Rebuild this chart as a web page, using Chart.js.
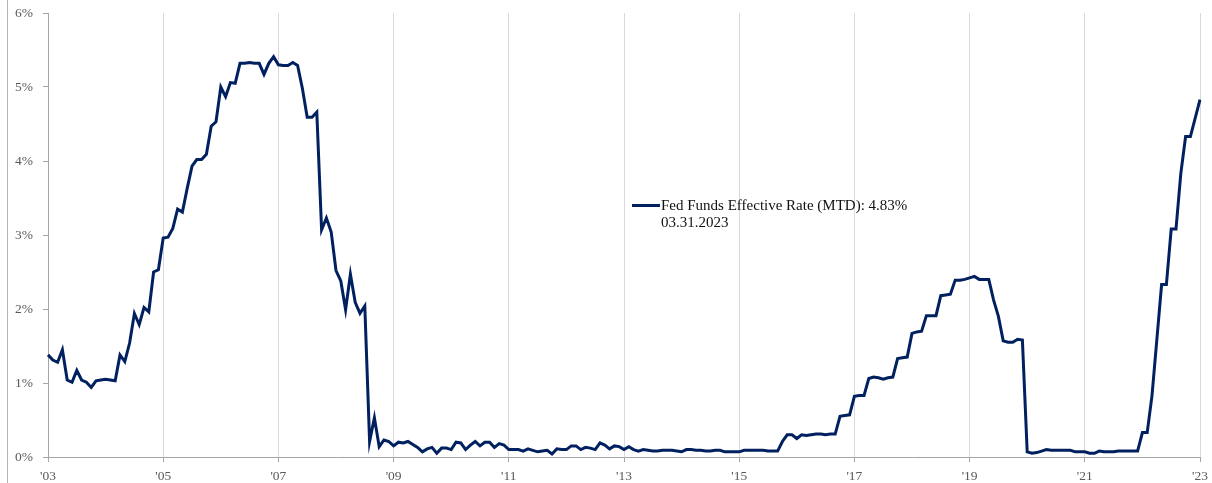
<!DOCTYPE html>
<html>
<head>
<meta charset="utf-8">
<title>Fed Funds Effective Rate</title>
<script src="https://cdn.jsdelivr.net/npm/chart.js@4.4.1/dist/chart.umd.min.js"></script>
<style>
  html, body { margin: 0; padding: 0; background: #ffffff; }
  #wrap { position: relative; width: 1212px; height: 483px; overflow: hidden; }
  #edge { position: absolute; left: 7px; top: 0; width: 1px; height: 483px; background: #b4b4b4; }
  #legend { position: absolute; left: 632px; top: 197px; font-family: "Liberation Serif", "Times New Roman", serif;
            font-size: 15px; line-height: 17px; color: #111111; }
  #legend .swatch { position: absolute; left: 0; top: 7px; width: 28px; height: 3px; background: #002060; }
  #legend .txt { margin-left: 29px; white-space: nowrap; }
</style>
</head>
<body>
<div id="wrap">
  <canvas id="chart" width="1212" height="483" style="width:1212px;height:483px"></canvas>
  <div id="edge"></div>
  <div id="legend">
    <span class="swatch"></span>
    <div class="txt" id="legendLine1"></div>
    <div class="txt" id="legendLine2"></div>
  </div>
</div>
<script>
// Series description
const seriesName = 'Fed Funds Effective Rate (MTD)';
const asOfDate = '03.31.2023';

// Monthly observations start in March 2003
const startYear = 2003;
const startMonth = 3;

// Labelled year ticks, one every 24 months
const yearTicks = ["'03", "'05", "'07", "'09", "'11", "'13", "'15", "'17", "'19", "'21", "'23"];
const monthsPerTick = 24;

// Effective fed funds rate, month-end, percent
const fedFundsRate = [
  1.38, 1.31, 1.28, 1.45, 1.04, 1.01, 1.17, 1.04, 1.01, 0.94,            // 2003 Mar-Dec
  1.03, 1.04, 1.05, 1.04, 1.03, 1.38, 1.29, 1.54, 1.94, 1.79, 2.02, 1.96, // 2004
  2.50, 2.53, 2.96, 2.97, 3.09, 3.35, 3.31, 3.63, 3.93, 4.02, 4.02, 4.09, // 2005
  4.47, 4.53, 5.00, 4.87, 5.06, 5.05, 5.32, 5.32, 5.33, 5.32, 5.32, 5.17, // 2006
  5.32, 5.41, 5.30, 5.29, 5.29, 5.33, 5.29, 4.98, 4.59, 4.59, 4.66, 3.07, // 2007
  3.23, 3.04, 2.52, 2.38, 1.99, 2.47, 2.09, 1.94, 2.04, 0.21, 0.53, 0.14, // 2008
  0.23, 0.21, 0.15, 0.20, 0.19, 0.21, 0.17, 0.13, 0.07, 0.11, 0.13, 0.05, // 2009
  0.12, 0.12, 0.10, 0.20, 0.19, 0.10, 0.16, 0.21, 0.15, 0.20, 0.20, 0.13, // 2010
  0.18, 0.16, 0.10, 0.10, 0.10, 0.08, 0.11, 0.09, 0.07, 0.08, 0.09, 0.04, // 2011
  0.11, 0.10, 0.10, 0.15, 0.15, 0.10, 0.13, 0.12, 0.10, 0.19, 0.16, 0.11, // 2012
  0.15, 0.14, 0.10, 0.14, 0.10, 0.08, 0.10, 0.09, 0.08, 0.08, 0.09, 0.09, // 2013
  0.09, 0.08, 0.07, 0.10, 0.10, 0.09, 0.09, 0.08, 0.08, 0.09, 0.09, 0.07, // 2014
  0.07, 0.07, 0.07, 0.09, 0.09, 0.09, 0.09, 0.09, 0.08, 0.08, 0.08, 0.21, // 2015
  0.30, 0.30, 0.25, 0.30, 0.29, 0.30, 0.31, 0.31, 0.30, 0.31, 0.31, 0.55, // 2016
  0.56, 0.57, 0.82, 0.83, 0.83, 1.06, 1.08, 1.07, 1.05, 1.07, 1.08, 1.33, // 2017
  1.34, 1.35, 1.67, 1.69, 1.70, 1.91, 1.91, 1.91, 2.18, 2.19, 2.20, 2.39, // 2018
  2.39, 2.40, 2.42, 2.44, 2.40, 2.40, 2.40, 2.12, 1.90, 1.57, 1.55, 1.55, // 2019
  1.59, 1.58, 0.07, 0.05, 0.06, 0.08, 0.10, 0.09, 0.09, 0.09, 0.09, 0.09, // 2020
  0.07, 0.07, 0.07, 0.05, 0.05, 0.08, 0.07, 0.07, 0.07, 0.08, 0.08, 0.08, // 2021
  0.08, 0.08, 0.33, 0.33, 0.83, 1.58, 2.33, 2.33, 3.08, 3.08, 3.83, 4.33, // 2022
  4.33, 4.58, 4.83                                                       // 2023 Jan-Mar
];

// Month categories (YYYY-MM)
const months = fedFundsRate.map((_, i) => {
  const m = startMonth - 1 + i;
  return (startYear + Math.floor(m / 12)) + '-' + String(m % 12 + 1).padStart(2, '0');
});

// Legend text carries the latest reading
const latest = fedFundsRate[fedFundsRate.length - 1];
document.getElementById('legendLine1').textContent = seriesName + ': ' + latest.toFixed(2) + '%';
document.getElementById('legendLine2').textContent = asOfDate;

const axisGrey = '#a6a6a6';
const gridGrey = '#d9d9d9';
const labelGrey = '#595959';
const tickFont = { family: '"Liberation Serif", "Times New Roman", serif', size: 13.5 };

new Chart(document.getElementById('chart'), {
  type: 'line',
  data: {
    labels: months,
    datasets: [{
      label: seriesName,
      data: fedFundsRate,
      borderColor: '#002060',
      borderWidth: 3,
      pointRadius: 0,
      pointHoverRadius: 0,
      tension: 0,
      fill: false
    }]
  },
  options: {
    responsive: false,
    animation: false,
    events: [],
    layout: { padding: { left: 8, right: 12, top: 13, bottom: 0 } },
    plugins: {
      legend: { display: false },
      tooltip: { enabled: false }
    },
    scales: {
      x: {
        type: 'category',
        offset: false,
        border: { display: true, color: axisGrey, width: 1 },
        grid: {
          display: true,
          drawOnChartArea: true,
          drawTicks: true,
          tickLength: 5,
          color: gridGrey,
          tickColor: axisGrey,
          lineWidth: 1
        },
        ticks: {
          autoSkip: false,
          maxRotation: 0,
          minRotation: 0,
          padding: 6,
          color: labelGrey,
          font: tickFont,
          callback: (value, index) => (index % monthsPerTick === 0 ? yearTicks[index / monthsPerTick] : null)
        },
        afterFit: (scale) => {
          scale.height = 26;
          scale.paddingLeft = 0;
          scale.paddingRight = 0;
        }
      },
      y: {
        min: 0,
        max: 6,
        border: { display: true, color: axisGrey, width: 1 },
        grid: {
          display: true,
          drawOnChartArea: false,
          drawTicks: true,
          tickLength: 5,
          tickColor: axisGrey
        },
        ticks: {
          stepSize: 1,
          padding: 10,
          color: labelGrey,
          font: tickFont,
          callback: (v) => v + '%'
        },
        afterFit: (scale) => {
          scale.width = 40;
          scale.paddingTop = 0;
          scale.paddingBottom = 0;
        }
      }
    }
  }
});
</script>
</body>
</html>
